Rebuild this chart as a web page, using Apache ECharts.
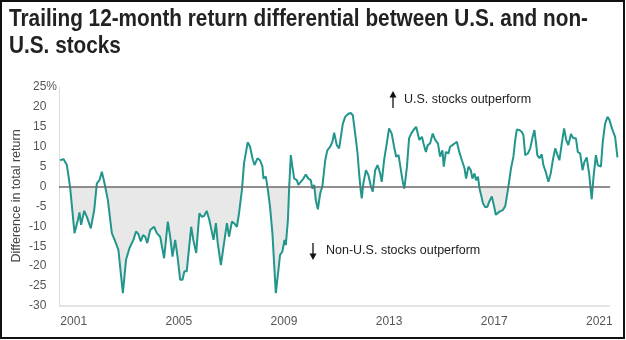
<!DOCTYPE html>
<html><head><meta charset="utf-8">
<script src="https://cdn.jsdelivr.net/npm/echarts@6/dist/echarts.min.js"></script>
<style>html,body{margin:0;padding:0;background:#fff}#c{width:626px;height:340px}</style>
</head><body><div id="c"></div>
<script>
// Decimal-year position of each reading
const dates = [
  2000.48, 2000.61, 2000.74, 2000.86, 2001.03, 2001.16, 2001.22, 2001.28, 2001.40, 2001.50,
  2001.65, 2001.78, 2001.88, 2001.98, 2002.07, 2002.16, 2002.30, 2002.45, 2002.58, 2002.70,
  2002.87, 2002.99, 2003.12, 2003.27, 2003.37, 2003.46, 2003.55, 2003.64, 2003.72, 2003.80,
  2003.91, 2003.97, 2004.06, 2004.16, 2004.29, 2004.44, 2004.58, 2004.67, 2004.76, 2004.86,
  2004.95, 2005.05, 2005.14, 2005.21, 2005.30, 2005.47, 2005.55, 2005.66, 2005.78, 2005.87,
  2005.96, 2006.06, 2006.16, 2006.32, 2006.41, 2006.48, 2006.60, 2006.72, 2006.83, 2006.91,
  2007.02, 2007.10, 2007.21, 2007.29, 2007.40, 2007.48, 2007.62, 2007.71, 2007.80, 2007.88,
  2007.99, 2008.09, 2008.18, 2008.22, 2008.31, 2008.39, 2008.47, 2008.56, 2008.69, 2008.79,
  2008.85, 2008.94, 2009.02, 2009.07, 2009.15, 2009.20, 2009.26, 2009.32, 2009.39, 2009.49,
  2009.55, 2009.64, 2009.74, 2009.83, 2009.93, 2010.02, 2010.08, 2010.15, 2010.21, 2010.29,
  2010.38, 2010.46, 2010.57, 2010.65, 2010.76, 2010.84, 2010.91, 2011.01, 2011.10, 2011.24,
  2011.33, 2011.45, 2011.54, 2011.62, 2011.71, 2011.80, 2011.87, 2011.92, 2011.96, 2012.02,
  2012.12, 2012.21, 2012.31, 2012.38, 2012.47, 2012.56, 2012.66, 2012.72, 2012.81, 2012.91,
  2013.00, 2013.10, 2013.19, 2013.27, 2013.36, 2013.45, 2013.52, 2013.58, 2013.68, 2013.76,
  2013.84, 2013.93, 2014.03, 2014.15, 2014.25, 2014.31, 2014.40, 2014.47, 2014.56, 2014.66,
  2014.75, 2014.86, 2014.94, 2015.03, 2015.08, 2015.16, 2015.26, 2015.32, 2015.41, 2015.49,
  2015.58, 2015.67, 2015.77, 2015.87, 2015.93, 2016.02, 2016.11, 2016.17, 2016.25, 2016.31,
  2016.38, 2016.44, 2016.50, 2016.57, 2016.66, 2016.74, 2016.81, 2016.91, 2017.00, 2017.06,
  2017.12, 2017.20, 2017.25, 2017.33, 2017.42, 2017.48, 2017.54, 2017.64, 2017.73, 2017.80,
  2017.86, 2017.96, 2018.05, 2018.11, 2018.18, 2018.28, 2018.37, 2018.45, 2018.53, 2018.60,
  2018.64, 2018.72, 2018.81, 2018.87, 2018.96, 2019.06, 2019.15, 2019.23, 2019.32, 2019.41,
  2019.48, 2019.57, 2019.66, 2019.74, 2019.82, 2019.92, 2020.01, 2020.11, 2020.18, 2020.27,
  2020.36, 2020.43, 2020.52, 2020.61, 2020.71, 2020.78, 2020.87, 2020.94, 2021.06, 2021.13,
  2021.22, 2021.31, 2021.38, 2021.48, 2021.54, 2021.60, 2021.69
];
// Return differential, U.S. minus non-U.S. (percentage points)
const values = [
  6.6, 6.9, 5.4, 0, -11.7, -8.4, -6.5, -9.6, -6.1, -7.6,
  -10.5, -5.9, 0.8, 1.6, 3.7, 1.2, -3.4, -11.7, -13.8, -15.9,
  -26.8, -18.4, -15.5, -13.4, -11.3, -11.9, -13.8, -12.2, -12.6, -14.2,
  -10.9, -11.3, -10.1, -11.7, -12.6, -18.0, -8.8, -12.6, -17.6, -13.4,
  -17.6, -23.4, -23.4, -21.3, -21.3, -10.1, -13.4, -16.7, -6.7, -7.6,
  -7.4, -6.1, -8.4, -13.4, -9.2, -14.2, -19.7, -14.2, -9.2, -12.6,
  -8.8, -9.2, -10.1, -6.7, -0.9, 5.8, 11.1, 10.0, 7.1, 5.4,
  7.1, 6.6, 5.0, 2.0, 2.5, -0.9, -5.1, -11.7, -26.8, -20.9,
  -17.2, -16.3, -13.4, -14.7, -8.4, 0, 7.9, 5.0, 2.0, 1.6,
  0.4, 1.2, 2.0, 3.0, 2.0, 1.6, -0.5, 0.4, -3.4, -5.7,
  -1.7, 0, 6.6, 9.1, 10.0, 11.2, 13.5, 10.4, 9.6, 15.8,
  17.5, 18.3, 18.5, 17.9, 13.3, 8.3, 2.5, -0.9, -3.0, 0.8,
  4.1, 2.9, 0, -1.3, 4.1, 5.4, 3.3, 1.2, 6.6, 10.8,
  14.6, 13.3, 10.0, 7.5, 7.9, 4.1, 1.2, -0.5, 5.0, 12.1,
  13.3, 14.2, 15.0, 11.7, 12.5, 10.8, 8.7, 10.4, 10.8, 13.3,
  11.8, 10.8, 7.5, 9.1, 5.0, 8.7, 8.3, 10.0, 10.4, 10.8,
  11.2, 8.7, 6.6, 4.6, 2.0, 5.0, 4.1, 2.0, 3.3, 1.6,
  2.5, -0.5, -2.1, -4.2, -5.2, -5.1, -3.8, -2.5, -5.1, -7.1,
  -7.6, -6.3, -6.7, -5.9, -4.9, -5.1, 0, 4.6, 7.5, 11.7,
  14.3, 14.2, 13.7, 12.9, 7.9, 8.3, 9.6, 12.1, 14.2, 10.4,
  7.9, 7.1, 8.1, 5.4, 3.7, 1.2, 3.3, 6.6, 9.6, 7.9,
  6.6, 10.8, 14.6, 11.7, 10.4, 13.2, 12.1, 12.1, 8.7, 8.3,
  4.1, 6.2, 7.3, 3.3, -3.2, 2.5, 7.9, 5.4, 5.0, 11.2,
  15.8, 17.5, 16.8, 14.6, 14.2, 12.5, 7.3
];
const xTickYears = [2001, 2005, 2009, 2013, 2017, 2021];
const xStart = 2000.44, xAxisEnd = 2021.41, xPlotEnd = 2021.71;
const yMin = -30, yMax = 25, yStep = 5;
const titleLines = ['Trailing 12-month return differential between U.S. and non-', 'U.S. stocks'];
const yAxisTitle = 'Difference in total return';
const upNote = 'U.S. stocks outperform';
const downNote = 'Non-U.S. stocks outperform';

const points = dates.map((d, i) => [d, values[i]]);
const FONT = "'Liberation Sans', Arial, sans-serif";
const TEAL = '#22968b';

// condensed title: measure natural width and squeeze horizontally
const TITLE_FONT = "bold 24px 'Liberation Sans', Arial, sans-serif";
const mctx = document.createElement('canvas').getContext('2d');
mctx.font = TITLE_FONT;
const titleScale = 579 / mctx.measureText(titleLines[0]).width;

const chart = echarts.init(document.getElementById('c'), null, {renderer: 'canvas'});
chart.setOption({
  backgroundColor: '#fff',
  animation: false,
  grid: {left: 59, top: 87, width: 559, height: 219},
  xAxis: {
    type: 'value', min: xStart, max: xPlotEnd,
    axisLine: {show: false},
    axisTick: {show: false}, splitLine: {show: false},
    axisLabel: {customValues: xTickYears, formatter: v => String(v), color: '#555', fontSize: 12, fontFamily: FONT, margin: 10}
  },
  yAxis: {
    type: 'value', min: yMin, max: yMax, interval: yStep,
    axisLine: {show: true, lineStyle: {color: '#dcdcdc', width: 1}},
    axisTick: {show: false}, splitLine: {show: false},
    axisLabel: {
      margin: 2, color: '#555', fontSize: 12, fontFamily: FONT,
      formatter: v => v === yMax ? '{p|' + v + '%}' : '{n|' + v + '}',
      rich: {p: {color: '#555', fontSize: 12, fontFamily: FONT}, n: {color: '#555', fontSize: 12, fontFamily: FONT, padding: [0, 10.7, 0, 0]}}
    }
  },
  visualMap: {
    type: 'piecewise', show: false, seriesIndex: 0, dimension: 1,
    pieces: [{min: -100, max: 0, color: '#e8e8e8'}, {min: 0, max: 100, color: 'rgba(255,255,255,0)'}],
    outOfRange: {color: 'rgba(255,255,255,0)'}
  },
  series: [{
    type: 'line', data: points, symbol: 'none', silent: true, z: 1,
    lineStyle: {width: 0, opacity: 0}, areaStyle: {opacity: 1},
    markLine: {
      silent: true, symbol: ['none', 'none'], label: {show: false}, animation: false,
      data: [
        [{coord: [xStart, 0], lineStyle: {color: '#6b6b6b', width: 1.5, type: 'solid'}}, {coord: [xAxisEnd, 0]}],
        [{coord: [xStart, yMin], lineStyle: {color: '#dcdcdc', width: 1.5, type: 'solid'}}, {coord: [xAxisEnd, yMin]}]
      ]
    }
  }, {
    type: 'line', data: points, symbol: 'none', z: 3,
    lineStyle: {color: TEAL, width: 2}, itemStyle: {color: TEAL}
  }],
  graphic: [
    {type: 'rect', shape: {x: 1, y: 1, width: 623, height: 337}, style: {fill: 'none', stroke: '#111', lineWidth: 2}, silent: true},
    {type: 'text', x: 9, y: 7, scaleX: titleScale, style: {text: titleLines[0], fill: '#222', font: TITLE_FONT, textVerticalAlign: 'top'}},
    {type: 'text', x: 9, y: 34, scaleX: titleScale, style: {text: titleLines[1], fill: '#222', font: TITLE_FONT, textVerticalAlign: 'top'}},
    {type: 'text', x: 17, y: 196, rotation: Math.PI / 2, style: {text: yAxisTitle, fill: '#444', font: '12.5px ' + FONT, textAlign: 'center', textVerticalAlign: 'middle'}},
    {type: 'line', shape: {x1: 393, y1: 108, x2: 393, y2: 96}, style: {stroke: '#111', lineWidth: 1.3}},
    {type: 'polygon', shape: {points: [[389.5, 97.5], [396.5, 97.5], [393, 91]]}, style: {fill: '#111'}},
    {type: 'text', x: 404, y: 99.5, style: {text: upNote, fill: '#222', font: '12.5px ' + FONT, textVerticalAlign: 'middle'}},
    {type: 'line', shape: {x1: 313, y1: 243, x2: 313, y2: 255}, style: {stroke: '#111', lineWidth: 1.3}},
    {type: 'polygon', shape: {points: [[309.5, 253.5], [316.5, 253.5], [313, 260]]}, style: {fill: '#111'}},
    {type: 'text', x: 326, y: 250.5, style: {text: downNote, fill: '#222', font: '12.5px ' + FONT, textVerticalAlign: 'middle'}}
  ]
});
</script></body></html>
